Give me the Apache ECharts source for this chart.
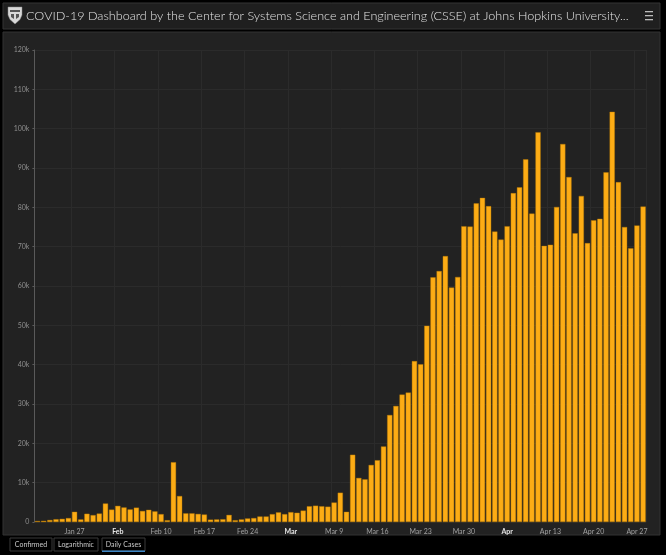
<!DOCTYPE html>
<html>
<head>
<meta charset="utf-8">
<script src="https://cdn.jsdelivr.net/npm/echarts@6/dist/echarts.min.js"></script>
<style>
html,body{margin:0;padding:0;background:#000;}
#c{width:666px;height:555px;}
</style>
</head>
<body>
<div id="c"></div>
<script>
const titleText = 'COVID-19 Dashboard by the Center for Systems Science and Engineering (CSSE) at Johns Hopkins University...';
const tabNames = ['Confirmed', 'Logarithmic', 'Daily Cases'];
const categories = [
 'Jan 21','Jan 22','Jan 23','Jan 24','Jan 25','Jan 26','Jan 27','Jan 28','Jan 29','Jan 30','Jan 31',
 'Feb 1','Feb 2','Feb 3','Feb 4','Feb 5','Feb 6','Feb 7','Feb 8','Feb 9','Feb 10','Feb 11','Feb 12','Feb 13','Feb 14','Feb 15','Feb 16','Feb 17','Feb 18','Feb 19','Feb 20','Feb 21','Feb 22','Feb 23','Feb 24','Feb 25','Feb 26','Feb 27','Feb 28','Feb 29',
 'Mar 1','Mar 2','Mar 3','Mar 4','Mar 5','Mar 6','Mar 7','Mar 8','Mar 9','Mar 10','Mar 11','Mar 12','Mar 13','Mar 14','Mar 15','Mar 16','Mar 17','Mar 18','Mar 19','Mar 20','Mar 21','Mar 22','Mar 23','Mar 24','Mar 25','Mar 26','Mar 27','Mar 28','Mar 29','Mar 30','Mar 31',
 'Apr 1','Apr 2','Apr 3','Apr 4','Apr 5','Apr 6','Apr 7','Apr 8','Apr 9','Apr 10','Apr 11','Apr 12','Apr 13','Apr 14','Apr 15','Apr 16','Apr 17','Apr 18','Apr 19','Apr 20','Apr 21','Apr 22','Apr 23','Apr 24','Apr 25','Apr 26','Apr 27','Apr 28'
];
const dailyCases = [
 250,300,500,700,800,1000,2600,650,2100,1750,2150,
 4700,3150,4100,3700,3200,3650,2800,3100,2700,2000,450,15200,6600,2200,2200,2050,1900,600,650,700,1800,450,650,900,1000,1400,1400,2000,2450,
 2000,2500,2350,2900,4000,4150,4000,3900,4950,7450,2600,17100,11200,10850,14500,15700,19200,27200,29500,32400,32900,40900,40100,49900,62200,63800,67600,59600,62300,75200,75100,
 81000,82400,80300,73850,71800,75200,83600,85100,92200,78400,99100,70200,70500,80100,96100,87700,73400,82900,70900,76700,77100,88900,104300,86400,75000,69600,75400,80200
];
const tickDates = ['Jan 27','Feb 3','Feb 10','Feb 17','Feb 24','Mar 2','Mar 9','Mar 16','Mar 23','Mar 30','Apr 6','Apr 13','Apr 20','Apr 27'];
const tickTexts = ['Jan 27','Feb','Feb 10','Feb 17','Feb 24','Mar','Mar 9','Mar 16','Mar 23','Mar 30','Apr','Apr 13','Apr 20','Apr 27'];
const monthTicks = ['Feb','Mar','Apr'];
const yTickValues = [0,10000,20000,30000,40000,50000,60000,70000,80000,90000,100000,110000,120000];

const tickMap = {};
tickDates.forEach((d, i) => tickMap[d] = tickTexts[i]);
const isTick = (idx, val) => tickMap[categories[idx]] !== undefined;

const chart = echarts.init(document.getElementById('c'));
const FONT = 'Lato, "Open Sans", sans-serif';

const tabX = [10, 54, 102];
const tabW = [42, 44, 43];
const tabGraphics = [];
tabNames.forEach((t, i) => {
  tabGraphics.push({type:'rect', z:-5, shape:{x:tabX[i], y:538, width:tabW[i], height:13},
    style:{fill:'#000', stroke:'#3a3a3a', lineWidth:1}});
  tabGraphics.push({type:'text', z:5, x:tabX[i] + tabW[i]/2, y:544.5,
    style:{text:t, fill:'#c8c8c8', font:'7px ' + FONT, textAlign:'center', textVerticalAlign:'middle'}});
});
tabGraphics.push({type:'rect', z:5, shape:{x:102, y:550.5, width:43, height:1.5}, style:{fill:'#3d86c6'}});

chart.setOption({
  backgroundColor: '#000',
  animation: false,
  graphic: [
    {type:'rect', z:-10, shape:{x:3, y:3, width:657, height:26}, style:{fill:'#1f1f1f', stroke:'#353535', lineWidth:1}},
    {type:'rect', z:-10, shape:{x:3, y:32, width:657, height:503}, style:{fill:'#222222', stroke:'#333333', lineWidth:1}},
    {type:'polygon', z:5, shape:{points:[[8,7],[22,7],[22,15],[20,19.5],[15,24],[10,19.5],[8,15]]}, style:{fill:'#d8d8d8', stroke:'#888', lineWidth:0.5}},
    {type:'rect', z:6, shape:{x:10, y:10, width:10, height:2}, style:{fill:'#555'}},
    {type:'polygon', z:6, shape:{points:[[11,14],[14,14],[14,19],[11,17]]}, style:{fill:'#555'}},
    {type:'polygon', z:6, shape:{points:[[16,14],[19,14],[19,17],[16,19]]}, style:{fill:'#555'}},
    {type:'text', z:5, x:26, y:16, style:{text:titleText, fill:'#e2e2e2', font:'300 12.6px ' + FONT, textVerticalAlign:'middle'}},
    {type:'rect', z:5, shape:{x:645, y:11, width:8, height:1.3}, style:{fill:'#bbb'}},
    {type:'rect', z:5, shape:{x:645, y:15, width:8, height:1.3}, style:{fill:'#bbb'}},
    {type:'rect', z:5, shape:{x:645, y:19, width:8, height:1.3}, style:{fill:'#bbb'}}
  ].concat(tabGraphics),
  grid: {left: 34.4, right: 19.8, top: 50, bottom: 33, containLabel: false},
  xAxis: {
    type: 'category',
    data: categories,
    axisLine: {show: false},
    axisTick: {show: false},
    splitLine: {show: true, interval: isTick, lineStyle: {color: '#2b2b2b', width: 1}},
    axisLabel: {
      interval: isTick,
      margin: 6,
      fontFamily: FONT,
      fontSize: 7,
      color: '#a0a0a0',
      formatter: (v) => {
        const t = tickMap[v];
        if (t === undefined) return '';
        return monthTicks.includes(t) ? '{b|' + t + '}' : t;
      },
      rich: {b: {fontWeight: 'bold', color: '#e6e6e6', fontSize: 7, fontFamily: FONT}}
    }
  },
  yAxis: {
    type: 'value',
    min: yTickValues[0],
    max: yTickValues[yTickValues.length - 1],
    interval: 10000,
    axisLine: {show: true, lineStyle: {color: '#5a5a5a', width: 1}},
    axisTick: {show: true, length: 2, lineStyle: {color: '#5a5a5a'}},
    splitLine: {show: true, lineStyle: {color: '#2b2b2b', width: 1}},
    axisLabel: {
      margin: 5,
      fontFamily: FONT,
      fontSize: 7,
      color: '#8e8e8e',
      formatter: (v) => v === 0 ? '0' : (v / 1000) + 'k'
    }
  },
  series: [{
    type: 'bar',
    data: dailyCases,
    barCategoryGap: '16%',
    itemStyle: {color: '#fcac15', borderColor: '#b87800', borderWidth: 0.4}
  }]
});
</script>
</body>
</html>
